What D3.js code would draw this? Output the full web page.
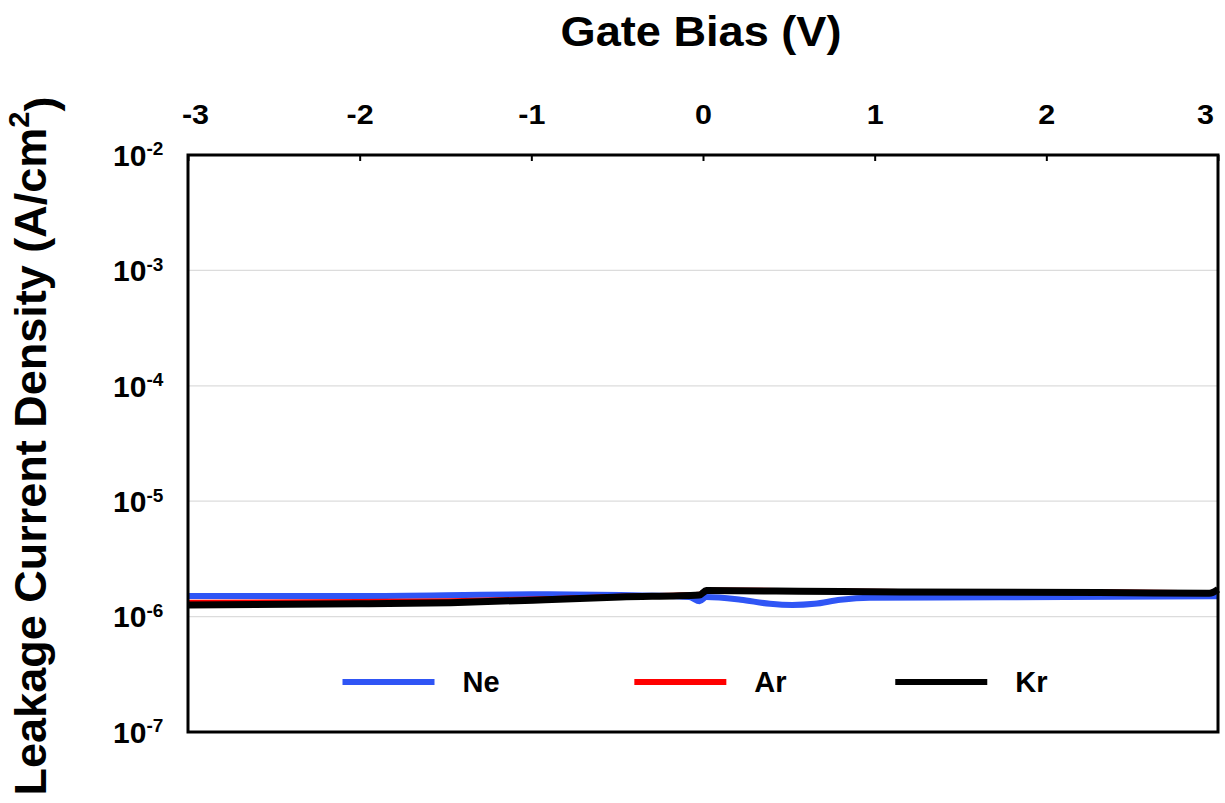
<!DOCTYPE html>
<html>
<head>
<meta charset="utf-8">
<script src="https://cdn.jsdelivr.net/npm/d3@7"></script>
<style>
  body { margin: 0; background: #fff; }
  text { font-family: "Liberation Sans", Arial, sans-serif; font-weight: bold; fill: #000; }
</style>
</head>
<body>
<div id="chart"></div>
<script>
// --- data (gate bias V, current density A/cm2)
const xTicks = [-3, -2, -1, 0, 1, 2, 3];
const yExps = [-2, -3, -4, -5, -6, -7];

const neBias = [-3, -2, -1, -0.48, -0.08, -0.02, 0.02, 0.22, 0.39, 0.52, 0.65, 0.8, 0.97, 1.73, 3];
const neJ = [1.51e-6, 1.51e-6, 1.56e-6, 1.54e-6, 1.48e-6, 1.36e-6, 1.48e-6, 1.40e-6, 1.29e-6, 1.26e-6, 1.29e-6, 1.40e-6, 1.46e-6, 1.47e-6, 1.50e-6];

const arBias = [-3, -2, -1.47, -0.92, -0.48, -0.02, 0.02, 0.56, 1.15, 2.31, 2.95, 3];
const arJ = [1.33e-6, 1.35e-6, 1.37e-6, 1.43e-6, 1.50e-6, 1.56e-6, 1.70e-6, 1.68e-6, 1.65e-6, 1.64e-6, 1.61e-6, 1.70e-6];

const krBias = [-3, -2, -1.47, -0.92, -0.48, -0.02, 0.02, 0.56, 1.15, 2.31, 2.95, 3];
const krJ = [1.26e-6, 1.29e-6, 1.32e-6, 1.40e-6, 1.48e-6, 1.54e-6, 1.68e-6, 1.66e-6, 1.63e-6, 1.62e-6, 1.59e-6, 1.72e-6];

const seriesNames = ["Ne", "Ar", "Kr"];
const seriesColors = ["#2f55f5", "#ff0000", "#000000"];

// dimensions
const W = 1225, H = 803;
const margin = {top: 155, right: 7, bottom: 71, left: 188};
const width = W - margin.left - margin.right;
const height = H - margin.top - margin.bottom;

const svg = d3.select("#chart").append("svg")
  .attr("width", W).attr("height", H);

const g = svg.append("g")
  .attr("transform", `translate(${margin.left},${margin.top})`);

const x = d3.scaleLinear().domain([-3, 3]).range([0, width]);
const y = d3.scaleLog().domain([1e-7, 1e-2]).range([height, 0]);

// gridlines
g.append("g").selectAll("line")
  .data(yExps.slice(1, -1))
  .join("line")
    .attr("x1", 0).attr("x2", width)
    .attr("y1", d => y(Math.pow(10, d)))
    .attr("y2", d => y(Math.pow(10, d)))
    .attr("stroke", "#dcdcdc").attr("stroke-width", 1.2);

// top axis, ticks inward
const xAxis = g.append("g")
  .call(d3.axisTop(x).tickValues(xTicks).tickSize(-6).tickFormat(d => d));
xAxis.select(".domain").remove();
xAxis.selectAll(".tick line").attr("stroke", "#000").attr("stroke-width", 2);
xAxis.selectAll(".tick text")
  .attr("y", null).attr("dy", null)
  .attr("transform", d => `translate(${d === -3 ? 7 : (d === 3 ? -13 : 0)},-31) scale(1.13,1)`)
  .style("font-size", "27px")
  .style("font-family", "Liberation Sans, Arial, sans-serif")
  .style("font-weight", "bold")
  .attr("fill", "#000");

// y tick labels 10^n
const yLab = g.append("g").selectAll("text")
  .data(yExps)
  .join("text")
    .attr("x", -75)
    .attr("y", d => y(Math.pow(10, d)))
    .attr("dy", "0.36em")
    .attr("text-anchor", "start")
    .style("font-size", "30px");
yLab.append("tspan").text("10");
yLab.append("tspan")
  .attr("dy", "-0.55em")
  .style("font-size", "19px")
  .text(d => d);

// lines
const line = d3.line()
  .x(d => x(d[0]))
  .y(d => y(d[1]))
  .curve(d3.curveMonotoneX);

const series = [
  d3.zip(neBias, neJ),
  d3.zip(arBias, arJ),
  d3.zip(krBias, krJ)
];
const widths = [6, 5, 7];

const plot = g.append("g");
plot.selectAll("path")
  .data(series)
  .join("path")
    .attr("d", line)
    .attr("fill", "none")
    .attr("stroke", (d, i) => seriesColors[i])
    .attr("stroke-width", (d, i) => widths[i])
    .attr("stroke-linejoin", "round");

// frame
g.append("rect")
  .attr("width", width).attr("height", height)
  .attr("fill", "none").attr("stroke", "#000").attr("stroke-width", 3);

// legend
const legX = [x(-2.1), x(-0.4), x(1.12)];
const legend = g.append("g").selectAll("g")
  .data(seriesNames)
  .join("g")
    .attr("transform", (d, i) => `translate(${legX[i]},${y(2.71e-7)})`);
legend.append("line")
  .attr("x1", 0).attr("x2", 92)
  .attr("stroke", (d, i) => seriesColors[i])
  .attr("stroke-width", 6);
legend.append("text")
  .attr("x", 120).attr("dy", "0.36em")
  .style("font-size", "29px")
  .text(d => d);

// titles
svg.append("text")
  .attr("transform", "translate(701,46) scale(1.05,1)")
  .attr("text-anchor", "middle")
  .style("font-size", "43px")
  .text("Gate Bias (V)");

const yt = svg.append("text")
  .attr("transform", "translate(46,446) rotate(-90)")
  .attr("text-anchor", "middle")
  .style("font-size", "45px");
yt.append("tspan").text("Leakage Current Density (A/cm");
yt.append("tspan").attr("dy", "-0.6em").style("font-size", "29px").text("2");
yt.append("tspan").attr("dy", "0.6em").text(")");
</script>
</body>
</html>
